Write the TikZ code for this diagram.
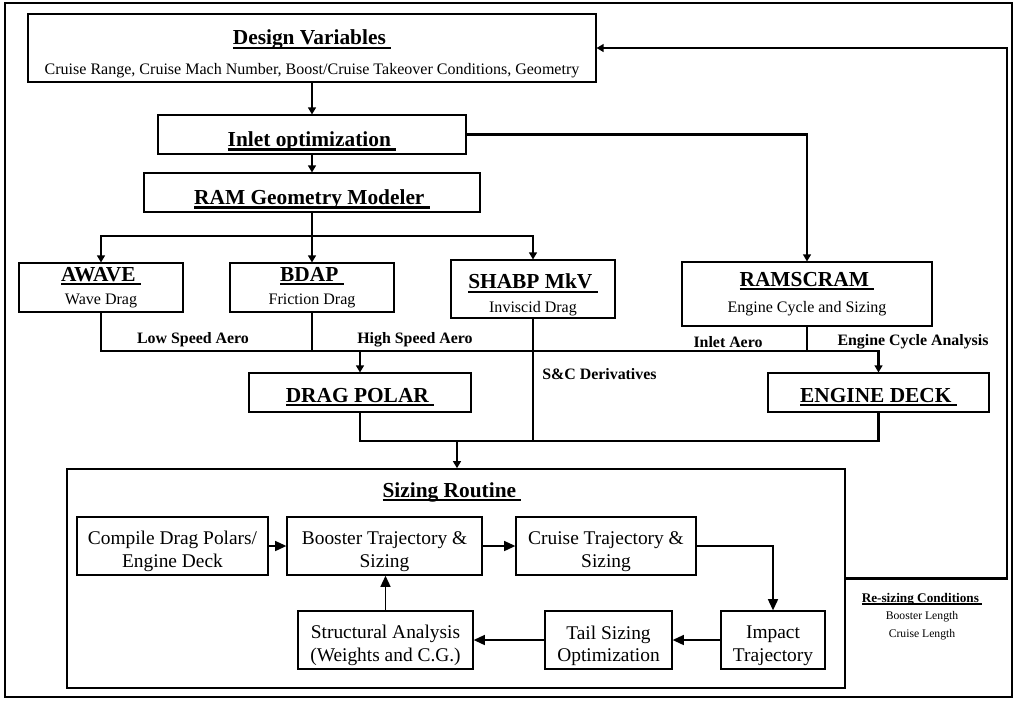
\documentclass[tikz,border=0pt]{standalone}
\usepackage{fontspec}
\setmainfont{Liberation Serif}
\usetikzlibrary{arrows.meta,positioning}

\newcommand{\upx}{0.025cm}
\newcommand{\hdr}[2][15.2]{\leavevmode{\fontsize{#1}{#1}\selectfont\bfseries\setbox0=\hbox{#2\ }\rlap{\rule[-0.18em]{\wd0}{0.1em}}\box0}}
\newcommand{\lift}[1]{\rule{0pt}{#1}}

\begin{document}
\begin{tikzpicture}[
    x=\upx, y=-\upx,
    sz/.style 2 args={minimum width=#1*\upx, minimum height=#2*\upx},
    box/.style={draw, line width=0.75pt, align=center, inner sep=0pt, font=\fontsize{11.4}{13}\selectfont},
    stage/.style={draw, line width=0.85pt, align=center, inner sep=0pt, font=\fontsize{13.8}{16}\selectfont},
    lbl/.style={inner sep=0pt, font=\fontsize{11.3}{13}\selectfont\bfseries},
    conn/.style={line width=1.7pt},
    arrow/.style={conn, -{Triangle[length=5pt,width=5.5pt]}},
    flow/.style={line width=1.4pt, -{Triangle[length=8pt,width=7pt]}}
]
    \useasboundingbox (0,0) rectangle (1016,700);
    \draw[line width=1.9pt] (5,3) rectangle (1012,697);

    \node[box, sz={568}{68}] (dv) at (312,48) {\lift{19pt}\hdr{Design Variables}\\[8pt]Cruise Range, Cruise Mach Number, Boost/Cruise Takeover Conditions, Geometry};
    \node[box, sz={308}{39}] (inlet) at (312,134.5) {\lift{20.7pt}\hdr{Inlet optimization}};
    \node[box, sz={336}{39}] (ram) at (312,192.5) {\lift{20.7pt}\hdr{RAM Geometry Modeler}};

    \node[box, sz={164}{49}] (awave) at (101,287.5) {\hdr{AWAVE}\\[3pt]Wave Drag};
    \node[box, sz={164}{49}] (bdap) at (312,287.5) {\hdr{BDAP}\\[3pt]Friction Drag};
    \node[box, sz={164}{58}] (shabp) at (533,289) {\lift{19.3pt}\hdr{SHABP MkV}\\[4pt]Inviscid Drag};
    \node[box, sz={250}{64}] (ramscram) at (807,294) {\hdr{RAMSCRAM}\\[6pt]Engine Cycle and Sizing};

    \node[box, sz={222}{39}] (drag) at (360,392.5) {\lift{17pt}\hdr{DRAG POLAR}};
    \node[box, sz={221}{39}] (deck) at (878.5,392.5) {\lift{17pt}\hdr{ENGINE DECK}};

    \node[lbl] (lowaero) at (193,340) {Low Speed Aero};
    \node[lbl] (highaero) at (415,340) {High Speed Aero};
    \node[lbl] (inletaero) at (728,342) {Inlet Aero};
    \node[lbl] (cycle) at (913,342) {Engine Cycle Analysis};
    \node[lbl, anchor=west] (scder) at (542,374) {S\&C Derivatives};

    % sizing routine
    \node[draw, line width=1.1pt, sz={778}{219}] (sizing) at (456,578.5) {};
    \node[inner sep=0pt] (sizhdr) at (452,492) {\hdr{Sizing Routine}};
    \node[stage, sz={191}{58}] (compile) at (172.5,546) {\lift{17.5pt}Compile Drag Polars/\\Engine Deck};
    \node[stage, sz={195}{58}] (booster) at (384.5,546) {\lift{17.5pt}Booster Trajectory \&\\Sizing};
    \node[stage, sz={180}{58}] (cruise) at (606,546) {\lift{17.5pt}Cruise Trajectory \&\\Sizing};
    \node[stage, sz={104}{58}] (impact) at (773,640) {\lift{17.5pt}Impact\\Trajectory};
    \node[stage, sz={127}{58}] (tail) at (608.5,640) {\lift{17.5pt}Tail Sizing\\Optimization};
    \node[stage, sz={175}{58}] (struct) at (385.5,640) {\lift{17.5pt}Structural Analysis\\(Weights and C.G.)};

    \node[align=center, inner sep=0pt, font=\fontsize{8.3}{12.5}\selectfont] (resize) at (922,616.5) {\hdr[9.4]{Re-sizing Conditions}\\Booster Length\\Cruise Length};

    \draw[arrow] (dv) -- (inlet);
    \draw[arrow] (inlet) -- (ram);
    \coordinate (split) at (312,236);
    \draw[conn] (ram) -- (split);
    \draw[arrow] (split) -| (awave);
    \draw[arrow] (split) -- (bdap);
    \draw[arrow] (split) -| (shabp);
    \draw[arrow] (inlet) -| (ramscram);

    \coordinate (busL) at (101,351);
    \coordinate (busR) at (807,351);
    \draw[conn] (awave) -- (busL) -- (busR) -- (ramscram);
    \draw[conn] (bdap) -- (bdap |- busL);
    \draw[arrow] (drag |- busL) -- (drag);
    \draw[arrow] (busR) -| (deck);

    \coordinate (merge) at (457,441);
    \draw[conn] (drag) |- (merge) -| (deck);
    \draw[conn] (shabp) -- (shabp |- merge);
    \draw[arrow] (merge) -- (merge |- sizing.north);

    \draw[flow] (compile) -- (booster);
    \draw[flow] (booster) -- (cruise);
    \draw[flow] (cruise) -| (impact);
    \draw[flow] (impact) -- (tail);
    \draw[flow] (tail) -- (struct);
    \draw[flow] (struct) -- (struct |- booster.south);

    \coordinate (ret) at (1007,578.5);
    \draw[arrow] (sizing) -- (ret) |- (dv);
\end{tikzpicture}
\end{document}
